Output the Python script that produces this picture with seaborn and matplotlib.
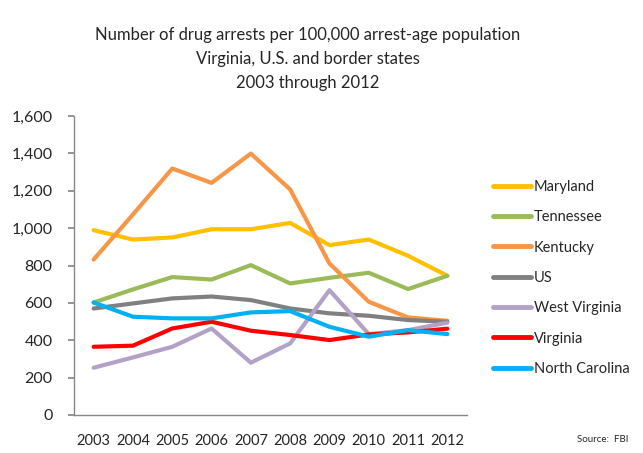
import matplotlib
matplotlib.use("Agg")
import matplotlib.pyplot as plt
import seaborn as sns
import pandas as pd

# data
years = [2003, 2004, 2005, 2006, 2007, 2008, 2009, 2010, 2011, 2012]
maryland = [989, 939, 950, 994, 994, 1028, 909, 939, 852, 745]
tennessee = [602, 672, 738, 725, 802, 704, 734, 761, 674, 745]
kentucky = [832, 1073, 1319, 1242, 1399, 1207, 811, 606, 522, 504]
us = [570, 597, 624, 634, 615, 570, 544, 531, 508, 499]
west_virginia = [253, 308, 365, 463, 280, 383, 668, 433, 454, 494]
virginia = [365, 371, 463, 499, 451, 428, 401, 431, 442, 462]
north_carolina = [602, 526, 517, 517, 549, 556, 472, 419, 454, 433]

states = ["Maryland", "Tennessee", "Kentucky", "US", "West Virginia",
          "Virginia", "North Carolina"]
series = [maryland, tennessee, kentucky, us, west_virginia, virginia, north_carolina]
colors = ["#FFC000", "#9BBB59", "#F79646", "#808080", "#B3A2C7", "#FF0000", "#00B0F0"]

df = pd.DataFrame([(s, y, v) for s, vals in zip(states, series)
                   for y, v in zip(years, vals)],
                  columns=["State", "Year", "Arrests"])

sns.set_theme(style="white")
plt.rcParams['font.family'] = ['Lato', 'DejaVu Sans']

fig = plt.figure(figsize=(6.43, 4.53), dpi=100)
ax = fig.add_axes([74 / 643, 1 - 415 / 453, 393 / 643, 299 / 453])

sns.lineplot(data=df, x="Year", y="Arrests", hue="State", hue_order=states,
             palette=dict(zip(states, colors)), linewidth=3, ax=ax)

ax.set_xlim(2002.5, 2012.5)
ax.set_ylim(0, 1600)
ax.set_xticks(years)
ax.set_xticklabels([str(y) for y in years])
ax.set_yticks(range(0, 1601, 200))
ax.set_yticklabels([f"{v:,}" for v in range(0, 1601, 200)])
ax.set_xlabel("")
ax.set_ylabel("")
for side in ["top", "right"]:
    ax.spines[side].set_visible(False)
for side in ["left", "bottom"]:
    ax.spines[side].set_color("#888888")
    ax.spines[side].set_linewidth(1)
ax.tick_params(axis="y", left=True, length=4.5, color="#888888", labelsize=11.5, pad=11)
ax.tick_params(axis="x", bottom=False, labelsize=10.5, pad=8)

handles, labels = ax.get_legend_handles_labels()
ax.get_legend().remove()
for h in handles:
    h.set_linewidth(3.5)
fig.legend(handles, labels, loc="upper left", bbox_to_anchor=(487 / 643, 1 - 174 / 453),
           frameon=False, fontsize=10.5, handlelength=2.6, handletextpad=0.2,
           labelspacing=1.12, borderaxespad=0)

fig.text(308 / 643, 1 - 59 / 453,
         "Number of drug arrests per 100,000 arrest-age population\n"
         "Virginia, U.S. and border states\n2003 through 2012",
         ha="center", va="center", fontsize=12, linespacing=1.58)
fig.text(577 / 643, 1 - 440 / 453, "Source:  FBI", fontsize=7, va="center")

fig.savefig("out.png", dpi=100)
